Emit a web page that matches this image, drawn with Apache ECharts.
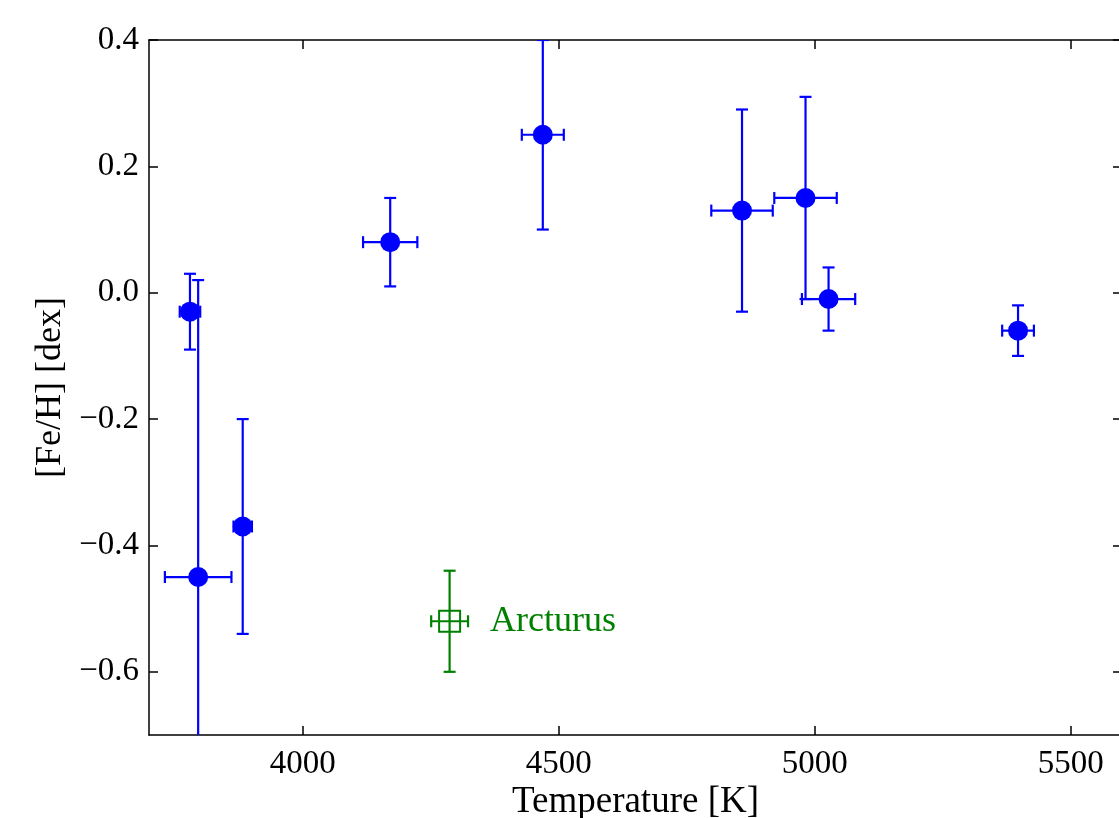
<!DOCTYPE html>
<html>
<head>
<meta charset="utf-8">
<script src="https://cdn.jsdelivr.net/npm/echarts@6/dist/echarts.min.js"></script>
<style>
  html, body { margin: 0; padding: 0; background: #fff; }
  #chart { width: 1119px; height: 818px; }
</style>
</head>
<body>
<div id="chart"></div>
<script>
// 恒星样本：温度、金属丰度及误差
const temps   = [3780, 3796, 3883, 4171, 4469, 4858, 4982, 5027, 5397];
const fehs    = [-0.03, -0.45, -0.37, 0.08, 0.25, 0.13, 0.15, -0.01, -0.06];
const tempErr = [20, 65, 18, 53, 41, 60, 61, 52, 31];
const fehErr  = [0.06, 0.47, 0.17, 0.07, 0.15, 0.16, 0.16, 0.05, 0.04];

// Arcturus 参考星
const arcTemp = [4287];
const arcFeh = [-0.52];
const arcTempErr = [36];
const arcFehErr = [0.08];

const xTicks = [4000, 4500, 5000, 5500];
const yTicks = [-0.6, -0.4, -0.2, 0.0, 0.2, 0.4];

const FONT = 'Liberation Serif';
const BLUE = '#0000ff';
const GREEN = '#008000';

const fmtY = v => v.toFixed(1).replace('-', '\u2212');
const fmtX = v => String(v);

const buildRows = (xs, ys, xe, ye) => xs.map((x, i) => [x, ys[i], xe[i], ye[i]]);

// 误差棒绘制
const errorBars = (color) => (params, api) => {
    const x = api.value(0), y = api.value(1), dx = api.value(2), dy = api.value(3);
    const c = api.coord([x, y]);
    const l = api.coord([x - dx, y]), r = api.coord([x + dx, y]);
    const t = api.coord([x, y + dy]), b = api.coord([x, y - dy]);
    const cap = 6;
    const style = { stroke: color, lineWidth: 2.2 };
    const line = (x1, y1, x2, y2) => ({ type: 'line', shape: { x1, y1, x2, y2 }, style });
    return {
        type: 'group',
        children: [
            line(l[0], c[1], r[0], c[1]),
            line(l[0], c[1] - cap, l[0], c[1] + cap),
            line(r[0], c[1] - cap, r[0], c[1] + cap),
            line(c[0], t[1], c[0], b[1]),
            line(c[0] - cap, t[1], c[0] + cap, t[1]),
            line(c[0] - cap, b[1], c[0] + cap, b[1])
        ]
    };
};

const chart = echarts.init(document.getElementById('chart'));

const tickStyle = { inside: true, length: 9, lineStyle: { color: '#000', width: 1.5 } };

const option = {
    animation: false,
    backgroundColor: '#fff',
    grid: { left: 149, top: 40, width: 973, height: 695, outerBoundsMode: 'none', containLabel: false },
    xAxis: [{
        type: 'value', min: 3700, max: 5600,
        name: 'Temperature [K]', nameLocation: 'middle', nameGap: 49, nameMoveOverlap: false,
        nameTextStyle: { fontFamily: FONT, fontSize: 37, color: '#000' },
        axisLine: { show: true, onZero: false, lineStyle: { color: '#000', width: 1.5 } },
        axisTick: Object.assign({ customValues: xTicks }, tickStyle),
        axisLabel: { customValues: xTicks, formatter: fmtX, fontFamily: FONT, fontSize: 33, color: '#000', margin: 13 },
        splitLine: { show: false }
    }, {
        type: 'value', min: 3700, max: 5600, position: 'top',
        axisLine: { show: true, onZero: false, lineStyle: { color: '#000', width: 1.5 } },
        axisTick: Object.assign({ customValues: xTicks }, tickStyle),
        axisLabel: { show: false },
        splitLine: { show: false }
    }],
    yAxis: [{
        type: 'value', min: -0.7, max: 0.4,
        name: '[Fe/H] [dex]', nameLocation: 'middle', nameGap: 80, nameRotate: 90, nameMoveOverlap: false,
        nameTextStyle: { fontFamily: FONT, fontSize: 36, color: '#000' },
        axisLine: { show: true, onZero: false, lineStyle: { color: '#000', width: 1.5 } },
        axisTick: Object.assign({ customValues: yTicks }, tickStyle),
        axisLabel: { customValues: yTicks, formatter: fmtY, fontFamily: FONT, fontSize: 33, color: '#000', margin: 10 },
        splitLine: { show: false }
    }, {
        type: 'value', min: -0.7, max: 0.4, position: 'right',
        axisLine: { show: true, onZero: false, lineStyle: { color: '#000', width: 1.5 } },
        axisTick: Object.assign({ customValues: yTicks }, tickStyle),
        axisLabel: { show: false },
        splitLine: { show: false }
    }],
    series: [{
        type: 'custom',
        clip: true,
        renderItem: errorBars(BLUE),
        data: buildRows(temps, fehs, tempErr, fehErr),
        z: 2
    }, {
        type: 'scatter',
        symbol: 'circle',
        symbolSize: 20,
        itemStyle: { color: BLUE, opacity: 1 },
        data: temps.map((t, i) => [t, fehs[i]]),
        z: 3
    }, {
        type: 'custom',
        clip: true,
        renderItem: errorBars(GREEN),
        data: buildRows(arcTemp, arcFeh, arcTempErr, arcFehErr),
        z: 2
    }, {
        type: 'scatter',
        symbol: 'rect',
        symbolSize: 21,
        itemStyle: { color: 'rgba(0,0,0,0)', borderColor: GREEN, borderWidth: 2, opacity: 1 },
        label: {
            show: true, position: 'right', distance: 29,
            formatter: 'Arcturus',
            fontFamily: FONT, fontSize: 36, color: GREEN
        },
        data: arcTemp.map((t, i) => [t, arcFeh[i]]),
        z: 3
    }]
};

chart.setOption(option);
</script>
</body>
</html>
